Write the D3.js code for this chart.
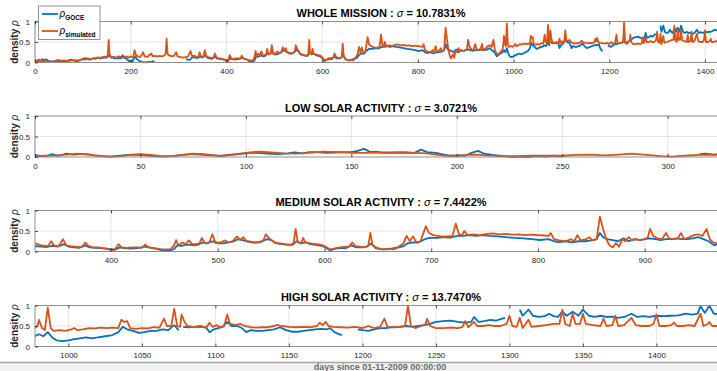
<!DOCTYPE html>
<html>
<head>
<meta charset="utf-8">
<script src="https://cdn.jsdelivr.net/npm/d3@7"></script>
<style>
  html, body { margin: 0; padding: 0; background: #fff; }
  svg { display: block; overflow: hidden; }
</style>
</head>
<body>
<svg id="fig" width="717" height="371"></svg>
<script>
// ---- data: [day, density] knots; null marks a gap in the measurements ----

// GOCE-derived density over the whole mission
const goce = [
  [0,.05],[3,.02],[6,.03],[8,.07],[11,.03],[15,.08],[18,.06],[21,.07],[25,.07],[28,.04],[32,.02],[36,.01],
  [40,.03],[45,.05],[50,.06],[55,.03],[60,.01],[65,.02],[70,.05],[75,.07],[80,.05],[85,.04],[88,.02],[92,.05],
  [97,.07],[102,.1],[106,.1],[110,.08],[115,.07],[120,.09],[123,.11],[127,.09],[130,.12],[134,.12],[138,.1],
  [142,.11],[146,.12],[150,.12],[153,.15],[156,.2],[159,.12],[162,.13],[165,.1],[170,.1],[175,.11],[180,.1],
  [183,.18],[186,.12],[190,.1],[194,.06],[197,.03],[200,.04],[204,.03],[207,.1],[210,.15],[213,.08],[217,.05],
  [222,.02],[226,0],[230,.01],[234,0],[238,.02],[242,.01],[246,.03],[250,.01],[251,null],
  [315,.07],[318,.08],[322,.06],[325,.08],[329,.13],[335,.12],[340,.11],[345,.14],[350,.12],[356,.18],[360,.12],
  [365,.1],[370,.09],[376,.15],[380,.1],[385,.09],[390,.08],[395,.07],[400,.06],[404,.05],[408,.1],[412,.08],
  [418,.07],[425,.08],[432,.12],[438,.09],[444,.06],[448,.03],[452,.03],[456,.03],[459,.06],[462,.15],[466,.14],
  [470,.16],[474,.17],[478,.15],[482,.17],[486,.22],[490,.2],[494,.24],[497,.25],[500,.2],[505,.2],[510,.22],
  [515,.25],[519,.3],[523,.28],[527,.25],[532,.22],[537,.22],[542,.25],[546,.3],[550,.28],[555,.2],[560,.18],
  [566,.16],[570,.16],[574,.25],[578,.2],[582,.22],[587,.18],[592,.16],[597,.14],[601,.1],[605,.03],[610,.07],
  [615,.08],[620,.08],[625,.15],[630,.1],[635,.1],[640,.12],[644,.2],[648,.08],[652,.06],[656,.05],[660,.06],
  [665,.08],[670,.1],[674,.13],[678,.2],[683,.22],[688,.22],[694,.3],[698,.33],[705,.33],[712,.35],[718,.34],
  [724,.38],[730,.38],[736,.4],[742,.38],[748,.4],[755,.38],[762,.37],[770,.35],[778,.33],[786,.32],[794,.3],
  [802,.28],[810,.3],[815,.25],[820,.23],[826,.25],[832,.22],[838,.25],[844,.25],[850,.27],[855,.3],[858,.45],
  [861,.35],[865,.3],[870,.28],[875,.25],[880,.32],[885,.25],[890,.3],[895,.28],[900,.3],[905,.32],[910,.3],
  [915,.28],[920,.3],[925,.3],[930,.32],[935,.3],[940,.3],[945,.32],[950,.35],[955,.3],[960,.25],[965,.15],
  [970,.2],[977,.25],[980,.3],[983,.25],[986,.35],[989,.22],[992,.15],[996,.13],[1000,.15],[1004,.18],[1008,.2],
  [1012,.22],[1016,.2],[1020,.22],[1025,.25],[1030,.28],[1034,.35],[1037,.48],[1040,.42],[1044,.38],[1048,.33],
  [1052,.35],[1056,.38],[1060,.38],[1064,.42],[1068,.4],[1072,.52],[1075,.4],[1076,null],[1078,.48],[1082,.47],
  [1086,.48],[1090,.5],[1094,.45],[1096,.35],[1099,.42],[1102,.45],[1105,.48],[1108,.6],[1111,.5],[1115,.5],
  [1118,.45],[1121,.35],[1124,.4],[1128,.38],[1132,.38],[1136,.4],[1140,.42],[1144,.47],[1148,.4],[1152,.36],
  [1156,.36],[1160,.38],[1164,.4],[1168,.42],[1172,.43],[1176,.42],[1178,.45],[1181,.35],[1184,.3],[1186,.28],
  [1187,null],[1197,.42],[1200,.4],[1204,.38],[1208,.42],[1212,.45],[1216,.45],[1220,.47],[1225,.48],[1230,.5],
  [1234,.48],[1238,.5],[1242,.52],[1246,.55],[1250,.6],[1255,.62],[1260,.63],[1265,.6],[1270,.58],[1274,.6],
  [1276,.72],[1279,.6],[1283,.62],[1287,.65],[1291,.63],[1294,.67],[1297,.7],[1298,null],[1307,.9],[1309,.75],
  [1313,.9],[1316,.75],[1320,.72],[1324,.74],[1327,.8],[1330,.74],[1333,.72],[1336,.85],[1339,.75],[1343,.85],
  [1347,.75],[1350,.9],[1354,.75],[1358,.72],[1362,.75],[1366,.72],[1370,.73],[1374,.7],[1378,.72],[1383,.8],
  [1387,.72],[1391,.74],[1395,.72],[1400,.75],[1405,.74],[1410,.75],[1415,.76],[1420,.8],[1424,.78],[1428,.8],
  [1430,.98],[1433,.82],[1436,1],[1439,.8],[1443,.78],[1448,.8]
];

// full-mission fit, low-activity stretch
const simMissionLow = [
  [0,.03],[5,.05],[10,.03],[15,.04],[20,.02],[25,.04],[30,.02],[40,.03],[50,.03],[60,.05],[70,.04],[80,.06],
  [90,.05],[100,.08],[105,.07],[110,.1],[115,.08],[120,.09],[125,.1],[130,.12],[135,.1],[140,.13],[145,.14],
  [150,.13],[152,.18],[154,.55],[156,.15],[160,.12],[165,.14],[170,.12],[175,.15],[180,.13],[185,.12],[190,.15],
  [195,.12],[200,.15],[205,.12],[208,.3],[211,.18],[215,.15],[220,.13],[226,.25],[229,.15],[235,.14],[243,.22],
  [246,.15],[250,.16],[255,.15],[260,.16],[265,.15],[270,.17],[273,.22],[275,.58],[277,.2],[280,.18],[285,.15],
  [290,.16],[295,.25],[298,.15],[305,.13],[310,.12],[315,.13],[320,.15],[325,.28],[328,.16]
];

// low-activity fit
const simLow = [
  [0,.02],[5,.03],[10,.04],[15,.06],[20,.08],[25,.06],[30,.03],[35,.01],[40,.02],[45,.05],[50,.07],[55,.05],
  [60,.02],[65,.02],[70,.05],[75,.08],[80,.07],[85,.04],[88,.03],[93,.05],[98,.09],[103,.12],[107,.13],[112,.11],
  [118,.09],[124,.08],[130,.1],[137,.13],[143,.12],[150,.1],[157,.1],[165,.11],[172,.12],[180,.1],[186,.09],
  [190,.06],[195,.03],[200,.03],[205,.05],[210,.06],[214,.04],[220,.02],[227,.02],[235,.03],[242,.03],[250,.03],
  [257,.05],[264,.06],[270,.04],[277,.06],[283,.08],[290,.05],[297,.02],[302,.01],[308,.03],[315,.05],[322,.05],
  [328,.05]
];

// medium-activity fit
const simMed = [
  [329,.2],[333,.16],[337,.14],[341,.13],[344,.25],[347,.14],[351,.13],[355,.3],[358,.15],[362,.13],[366,.12],
  [370,.11],[373,.12],[376,.22],[379,.13],[383,.1],[388,.1],[392,.08],[396,.07],[400,.03],[403,.02],[407,.18],
  [410,.1],[415,.09],[420,.1],[425,.1],[429,.09],[432,.17],[435,.1],[440,.08],[444,.07],[448,.05],[452,.05],
  [456,.06],[459,.15],[461,.28],[463,.15],[467,.22],[470,.18],[473,.27],[476,.18],[480,.18],[483,.2],[485,.33],
  [488,.2],[492,.22],[495,.42],[498,.2],[502,.22],[507,.27],[510,.22],[514,.25],[518,.37],[521,.28],[524,.35],
  [527,.25],[531,.24],[535,.22],[540,.23],[543,.28],[545,.42],[548,.33],[553,.22],[558,.2],[563,.18],[568,.17],
  [571,.2],[573,.55],[575,.22],[578,.2],[580,.33],[582,.22],[587,.2],[592,.18],[597,.16],[601,.12],[605,.05],
  [609,.07],[614,.1],[619,.11],[623,.12],[626,.22],[629,.13],[633,.12],[637,.1],[641,.14],[643,.46],[645,.15],
  [650,.08],[655,.05],[660,.07],[665,.05],[670,.12],[674,.2],[677,.38],[680,.25],[683,.37],[686,.22],[690,.25],
  [692,.4],[695,.62],[698,.45],[702,.4],[706,.38],[711,.36],[716,.37],[720,.38],[723,.68],[726,.42],[729,.4],
  [731,.5],[734,.4],[740,.42],[746,.4],[752,.43],[758,.44],[764,.42],[770,.43],[776,.41],[782,.42],[788,.4],
  [794,.41],[800,.4],[806,.39],[810,.38],[812,.45],[815,.3],[820,.27],[826,.25],[831,.3],[834,.25],[837,.4],
  [840,.27],[845,.3],[848,.35],[851,.27],[855,.3],[858,.85],[861,.55],[864,.3],[867,.15],[870,.1],[873,.2],
  [876,.12],[879,.3],[882,.25],[885,.35],[888,.27],[892,.3],[896,.28],[900,.3],[903,.35],[905,.55],[908,.38],
  [912,.32],[916,.3],[920,.45],[923,.32],[927,.3],[931,.32],[934,.45],[937,.3],[942,.35],[946,.4],[950,.42],
  [954,.38],[958,.55],[961,.3],[964,.22],[968,.2],[972,.25],[977,.3]
];

// high-activity fit
const simHigh = [
  [977,.45],[979,.5],[980,.65],[982,.45],[984,.4],[986,.95],[988,.45],[990,.38],[994,.4],[998,.38],[1002,.42],
  [1004,.45],[1006,.4],[1010,.42],[1014,.45],[1018,.44],[1022,.46],[1026,.45],[1030,.46],[1034,.45],[1036,.65],
  [1038,.6],[1040,.62],[1042,.45],[1046,.43],[1050,.45],[1054,.44],[1058,.47],[1062,.46],[1065,.68],[1067,.5],
  [1070,.5],[1072,.92],[1074,.5],[1076,.48],[1077,.78],[1079,.6],[1081,.5],[1085,.47],[1090,.48],[1094,.47],
  [1096,.58],[1098,.48],[1101,.52],[1103,.47],[1106,.5],[1108,.78],[1110,.55],[1114,.52],[1117,.55],[1120,.5],
  [1124,.47],[1128,.46],[1132,.47],[1136,.47],[1140,.5],[1142,.53],[1145,.5],[1150,.48],[1155,.47],[1160,.48],
  [1165,.47],[1169,.5],[1171,.58],[1173,.52],[1175,.6],[1177,.5],[1180,.48],[1185,.47],[1190,.46],[1195,.48],
  [1200,.45],[1204,.5],[1208,.45],[1212,.48],[1215,.68],[1217,.48],[1222,.47],[1226,.48],[1229,.5],[1231,1],
  [1233,.5],[1236,.45],[1240,.5],[1243,.55],[1244,.68],[1246,.5],[1250,.45],[1255,.45],[1260,.46],[1265,.45],
  [1268,.47],[1270,.62],[1272,.47],[1276,.6],[1278,.5],[1282,.5],[1286,.52],[1290,.5],[1294,.5],[1298,.55],
  [1300,.75],[1302,.5],[1305,.48],[1307,.7],[1309,.45],[1313,.65],[1315,.48],[1320,.5],[1325,.52],[1330,.55],
  [1334,.55],[1336,.9],[1338,.55],[1341,.5],[1343,.8],[1345,.55],[1348,.55],[1350,.8],[1352,.55],[1357,.52],
  [1362,.5],[1364,.68],[1366,.5],[1370,.52],[1372,.75],[1374,.5],[1378,.52],[1383,.7],[1386,.52],[1390,.5],
  [1395,.5],[1398,.55],[1400,.78],[1402,.5],[1406,.5],[1410,.52],[1412,.58],[1414,.5],[1418,.5],[1422,.52],
  [1426,.5],[1430,.8],[1432,.5],[1435,.55],[1436,.6],[1438,.5],[1443,.5],[1448,.48]
];

// panel titles, error figures and tick labels
const titles = ["WHOLE MISSION", "LOW SOLAR ACTIVITY", "MEDIUM SOLAR ACTIVITY", "HIGH SOLAR ACTIVITY"];
const sigmas = ["10.7831%", "3.0721%", "7.4422%", "13.7470%"];
const xTicks = [
  [0, 200, 400, 600, 800, 1000, 1200, 1400],
  [0, 50, 100, 150, 200, 250, 300],
  [400, 500, 600, 700, 800, 900],
  [1000, 1050, 1100, 1150, 1200, 1250, 1300, 1350, 1400]
];
const xDomains = [[0, 1446], [0, 328.1], [328.8, 977.1], [977.3, 1448]];
const yTicks = [0, 0.5, 1];
const legendLabels = ["GOCE", "simulated"];
const xLabel = "days since 01-11-2009 00:00:00";

const simSeries = [simMissionLow.concat(simMed.slice(1), simHigh.slice(1)), simLow, simMed, simHigh];

// ---- layout ----
const FONT = "'Liberation Sans', Arial, Helvetica, sans-serif";
const BLUE = "#0072BD", ORANGE = "#D95319", AXIS = "#262626";
const L = 35, R = 727, PH = 41;
const tops = [21.5, 116, 210.5, 305.5];
const LW = 1.8;

const svg = d3.select("#fig");
const defs = svg.append("defs");

titles.forEach((title, i) => {
  const top = tops[i], bot = top + PH;
  const x = d3.scaleLinear().domain(xDomains[i]).range([L, R]);
  const y = d3.scaleLinear().domain([0, 1]).range([bot, top]);
  const g = svg.append("g");

  g.append("rect").attr("x", L).attr("y", top).attr("width", R - L).attr("height", PH).attr("fill", "#fff");

  // grid
  g.selectAll(null).data(xTicks[i]).join("line")
    .attr("x1", d => x(d)).attr("x2", d => x(d)).attr("y1", top).attr("y2", bot)
    .attr("stroke", "#dedede").attr("stroke-width", 0.8);
  g.selectAll(null).data(yTicks.slice(1, 2)).join("line")
    .attr("x1", L).attr("x2", R).attr("y1", d => y(d)).attr("y2", d => y(d))
    .attr("stroke", "#dedede").attr("stroke-width", 0.8);

  // series
  const cid = "plotclip" + i;
  defs.append("clipPath").attr("id", cid)
    .append("rect").attr("x", L).attr("y", top - 1).attr("width", R - L).attr("height", PH + 2);
  const [d0, d1] = xDomains[i];
  const near = arr => arr.filter(d => d[0] >= d0 - 12 && d[0] <= d1 + 12);
  const line = d3.line().defined(d => d[1] != null).x(d => x(d[0])).y(d => y(Math.min(d[1], 1.02)));
  const plot = g.append("g").attr("clip-path", `url(#${cid})`);
  plot.append("path").datum(near(goce)).attr("d", line)
    .attr("fill", "none").attr("stroke", BLUE).attr("stroke-width", LW).attr("stroke-linejoin", "round");
  plot.append("path").datum(near(simSeries[i])).attr("d", line)
    .attr("fill", "none").attr("stroke", ORANGE).attr("stroke-width", LW).attr("stroke-linejoin", "round");

  // box
  g.append("rect").attr("x", L).attr("y", top).attr("width", R - L).attr("height", PH)
    .attr("fill", "none").attr("stroke", "#8f8f8f").attr("stroke-width", 1);

  // axes with inward ticks
  const styleAxis = sel => {
    sel.select(".domain").remove();
    sel.selectAll(".tick line").attr("stroke", AXIS).attr("stroke-width", 0.8);
    sel.selectAll(".tick text").attr("fill", AXIS).attr("font-family", FONT).attr("font-size", 8);
  };
  g.append("g").attr("transform", `translate(0,${bot})`)
    .call(d3.axisBottom(x).tickValues(xTicks[i]).tickFormat(d3.format("d")).tickSizeInner(-3).tickSizeOuter(0).tickPadding(6))
    .call(styleAxis);
  g.append("g").attr("transform", `translate(0,${top})`)
    .call(d3.axisTop(x).tickValues(xTicks[i]).tickFormat("").tickSizeInner(-3).tickSizeOuter(0))
    .call(styleAxis);
  g.append("g").attr("transform", `translate(${L},0)`)
    .call(d3.axisLeft(y).tickValues(yTicks).tickFormat(d => d === 0.5 ? "0.5" : d3.format("d")(d)).tickSizeInner(-3).tickSizeOuter(0).tickPadding(5))
    .call(styleAxis);

  // title
  const t = svg.append("text").attr("x", 381).attr("y", top - 4.5).attr("text-anchor", "middle")
    .attr("font-family", FONT).attr("font-size", 11).attr("font-weight", "bold").attr("fill", "#000");
  t.append("tspan").text(title + " : ");
  t.append("tspan").attr("font-style", "italic").attr("font-weight", "normal").text("σ");
  t.append("tspan").text(" = " + sigmas[i]);

  // y label
  const yl = svg.append("text").attr("transform", `translate(17.5,${top + PH / 2}) rotate(-90)`)
    .attr("text-anchor", "middle").attr("font-family", FONT).attr("font-size", 10)
    .attr("font-weight", "bold").attr("fill", AXIS);
  yl.append("tspan").text("density ");
  yl.append("tspan").attr("font-style", "italic").attr("font-weight", "normal").text("ρ");
});

// legend
const lg = svg.append("g");
lg.append("rect").attr("x", 38.5).attr("y", 6).attr("width", 61.5).attr("height", 33.5)
  .attr("fill", "#fff").attr("stroke", "#7a7a7a").attr("stroke-width", 0.8);
[[BLUE, 14], [ORANGE, 31]].forEach(([c, ly], k) => {
  lg.append("line").attr("x1", 42).attr("x2", 58).attr("y1", ly).attr("y2", ly)
    .attr("stroke", c).attr("stroke-width", LW);
  const tx = lg.append("text").attr("x", 59.5).attr("y", ly + 3)
    .attr("font-family", FONT).attr("fill", "#000");
  tx.append("tspan").attr("font-size", 10).attr("font-style", "italic").text("ρ");
  tx.append("tspan").attr("font-size", 6.5).attr("font-weight", "bold").attr("dy", 2.5).text(legendLabels[k]);
});

// x label strip along the bottom edge
svg.append("rect").attr("x", 0).attr("y", 362.5).attr("width", 717).attr("height", 9).attr("fill", "#f2f2f2");
svg.append("text").attr("x", 380).attr("y", 369.5).attr("text-anchor", "middle")
  .attr("font-family", FONT).attr("font-size", 9).attr("font-weight", "bold").attr("fill", "#6a6a6a")
  .text(xLabel);
svg.append("line").attr("x1", 0).attr("x2", 717).attr("y1", 362.5).attr("y2", 362.5)
  .attr("stroke", "#a5a5a5").attr("stroke-width", 1.5);
</script>
</body>
</html>
